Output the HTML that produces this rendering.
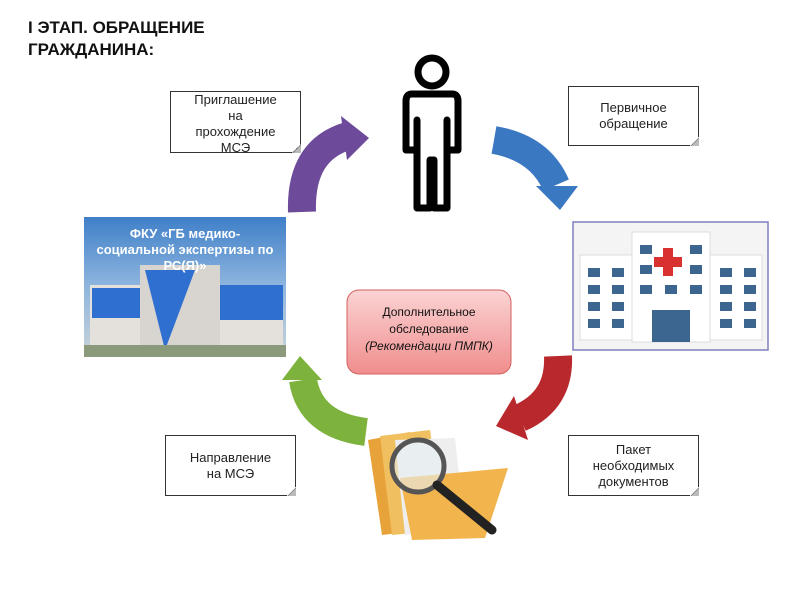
<!DOCTYPE html>
<html><head><meta charset="utf-8"><style>
body{margin:0;width:800px;height:600px;background:#fff;position:relative;overflow:hidden;font-family:"Liberation Sans",sans-serif}
.t{position:absolute;left:28px;top:17px;font-weight:bold;font-size:17px;line-height:22px;color:#111}
.b{position:absolute;border:1px solid #333;background:#fff;font-size:13px;line-height:16px;text-align:center;color:#222;display:flex;align-items:center;justify-content:center;box-sizing:border-box}
.b:after{content:"";position:absolute;right:-1px;bottom:-1px;width:9px;height:9px;background:linear-gradient(135deg,#fff 50%,#555 50%,#bbb 60%)}
</style></head><body>
<div class="t">I ЭТАП. ОБРАЩЕНИЕ<br>ГРАЖДАНИНА:</div>
<div class="b" style="left:170px;top:91px;width:131px;height:62px;align-items:flex-start;padding-top:0">Приглашение<br>на<br>прохождение<br>МСЭ</div>
<div class="b" style="left:568px;top:86px;width:131px;height:60px">Первичное<br>обращение</div>
<div class="b" style="left:165px;top:435px;width:131px;height:61px">Направление<br>на МСЭ</div>
<div class="b" style="left:568px;top:435px;width:131px;height:61px">Пакет<br>необходимых<br>документов</div>

<svg width="800" height="600" style="position:absolute;left:0;top:0">
<defs>
<linearGradient id="sky" x1="0" y1="0" x2="0" y2="1"><stop offset="0" stop-color="#3f7fc8"/><stop offset="0.5" stop-color="#8fb6df"/><stop offset="1" stop-color="#c9d3d8"/></linearGradient>
<linearGradient id="pk" x1="0" y1="0" x2="0" y2="1"><stop offset="0" stop-color="#fbd3d3"/><stop offset="1" stop-color="#f08d8d"/></linearGradient>
</defs>
<g fill="none" stroke="#000" stroke-width="7" stroke-linejoin="round">
<circle cx="432" cy="72" r="14"/>
<path d="M412 94 H452 Q458 94 458 101 V150 H447 V120 V208 H434 V160 H430 V208 H417 V120 V150 H406 V101 Q406 94 412 94Z"/>
</g>
<path d="M302 212 Q300 150 348 136" stroke="#6d4a9a" stroke-width="28" fill="none"/>
<polygon points="341,116 369,138 347,160" fill="#6d4a9a"/>
<path d="M494 140 Q540 148 556 185" stroke="#3b78c2" stroke-width="28" fill="none"/>
<polygon points="536,186 578,186 560,210" fill="#3b78c2"/>
<path d="M558 356 Q560 400 520 418" stroke="#b8282c" stroke-width="28" fill="none"/>
<polygon points="514,396 496,426 528,440" fill="#b8282c"/>
<path d="M366 432 Q310 425 303 380" stroke="#7db33c" stroke-width="28" fill="none"/>
<polygon points="282,380 322,380 300,356" fill="#7db33c"/>
<rect x="84" y="217" width="202" height="140" fill="url(#sky)"/>
<rect x="90" y="285" width="60" height="70" fill="#e4e0dc"/>
<rect x="92" y="288" width="55" height="30" fill="#2f6fd0"/>
<rect x="213" y="285" width="70" height="70" fill="#e4e0dc"/>
<rect x="215" y="285" width="68" height="35" fill="#2f6fd0"/>
<rect x="140" y="265" width="80" height="92" fill="#d8d4d0"/>
<polygon points="145,270 195,270 165,350" fill="#2f6fd0"/>
<rect x="84" y="345" width="202" height="12" fill="#8a9a7a"/>
<text x="185" y="238" font-size="13" font-weight="bold" fill="#fff" text-anchor="middle">ФКУ «ГБ медико-</text>
<text x="185" y="254" font-size="13" font-weight="bold" fill="#fff" text-anchor="middle">социальной экспертизы по</text>
<text x="185" y="270" font-size="13" font-weight="bold" fill="#fff" text-anchor="middle">РС(Я)»</text>
<rect x="573" y="222" width="195" height="128" fill="#f4f4f4" stroke="#7e7ec0" stroke-width="1.5"/>
<rect x="580" y="255" width="60" height="85" fill="#fff" stroke="#ddd"/>
<rect x="702" y="255" width="60" height="85" fill="#fff" stroke="#ddd"/>
<rect x="632" y="232" width="78" height="110" fill="#fff" stroke="#ddd"/>
<g fill="#3c6590">
<rect x="588" y="268" width="12" height="9"/><rect x="612" y="268" width="12" height="9"/>
<rect x="588" y="285" width="12" height="9"/><rect x="612" y="285" width="12" height="9"/>
<rect x="588" y="302" width="12" height="9"/><rect x="612" y="302" width="12" height="9"/>
<rect x="588" y="319" width="12" height="9"/><rect x="612" y="319" width="12" height="9"/>
<rect x="720" y="268" width="12" height="9"/><rect x="744" y="268" width="12" height="9"/>
<rect x="720" y="285" width="12" height="9"/><rect x="744" y="285" width="12" height="9"/>
<rect x="720" y="302" width="12" height="9"/><rect x="744" y="302" width="12" height="9"/>
<rect x="720" y="319" width="12" height="9"/><rect x="744" y="319" width="12" height="9"/>
<rect x="640" y="245" width="12" height="9"/><rect x="690" y="245" width="12" height="9"/>
<rect x="640" y="265" width="12" height="9"/><rect x="690" y="265" width="12" height="9"/>
<rect x="640" y="285" width="12" height="9"/><rect x="665" y="285" width="12" height="9"/><rect x="690" y="285" width="12" height="9"/>
<rect x="652" y="310" width="38" height="32"/>
</g>
<path d="M663 248h10v9h9v10h-9v9h-10v-9h-9v-10h9z" fill="#d93030"/>
<rect x="347" y="290" width="164" height="84" rx="12" fill="url(#pk)" stroke="#d46060"/>
<text x="429" y="316" font-size="12" fill="#111" text-anchor="middle">Дополнительное</text>
<text x="429" y="333" font-size="12" fill="#111" text-anchor="middle">обследование</text>
<text x="429" y="350" font-size="12" font-style="italic" fill="#111" text-anchor="middle">(Рекомендации ПМПК)</text>
<polygon points="368,440 410,432 425,530 382,535" fill="#e8a23a"/>
<polygon points="380,436 430,430 445,530 392,535" fill="#f0c060"/>
<polygon points="395,440 455,438 465,530 405,535" fill="#eeeeee"/>
<polygon points="400,478 508,468 485,538 412,540" fill="#f2b44c"/>
<circle cx="418" cy="466" r="26" fill="#e6eef4" fill-opacity="0.6" stroke="#555" stroke-width="5"/>
<line x1="437" y1="485" x2="492" y2="530" stroke="#222" stroke-width="9" stroke-linecap="round"/>
</svg>
</body></html>
